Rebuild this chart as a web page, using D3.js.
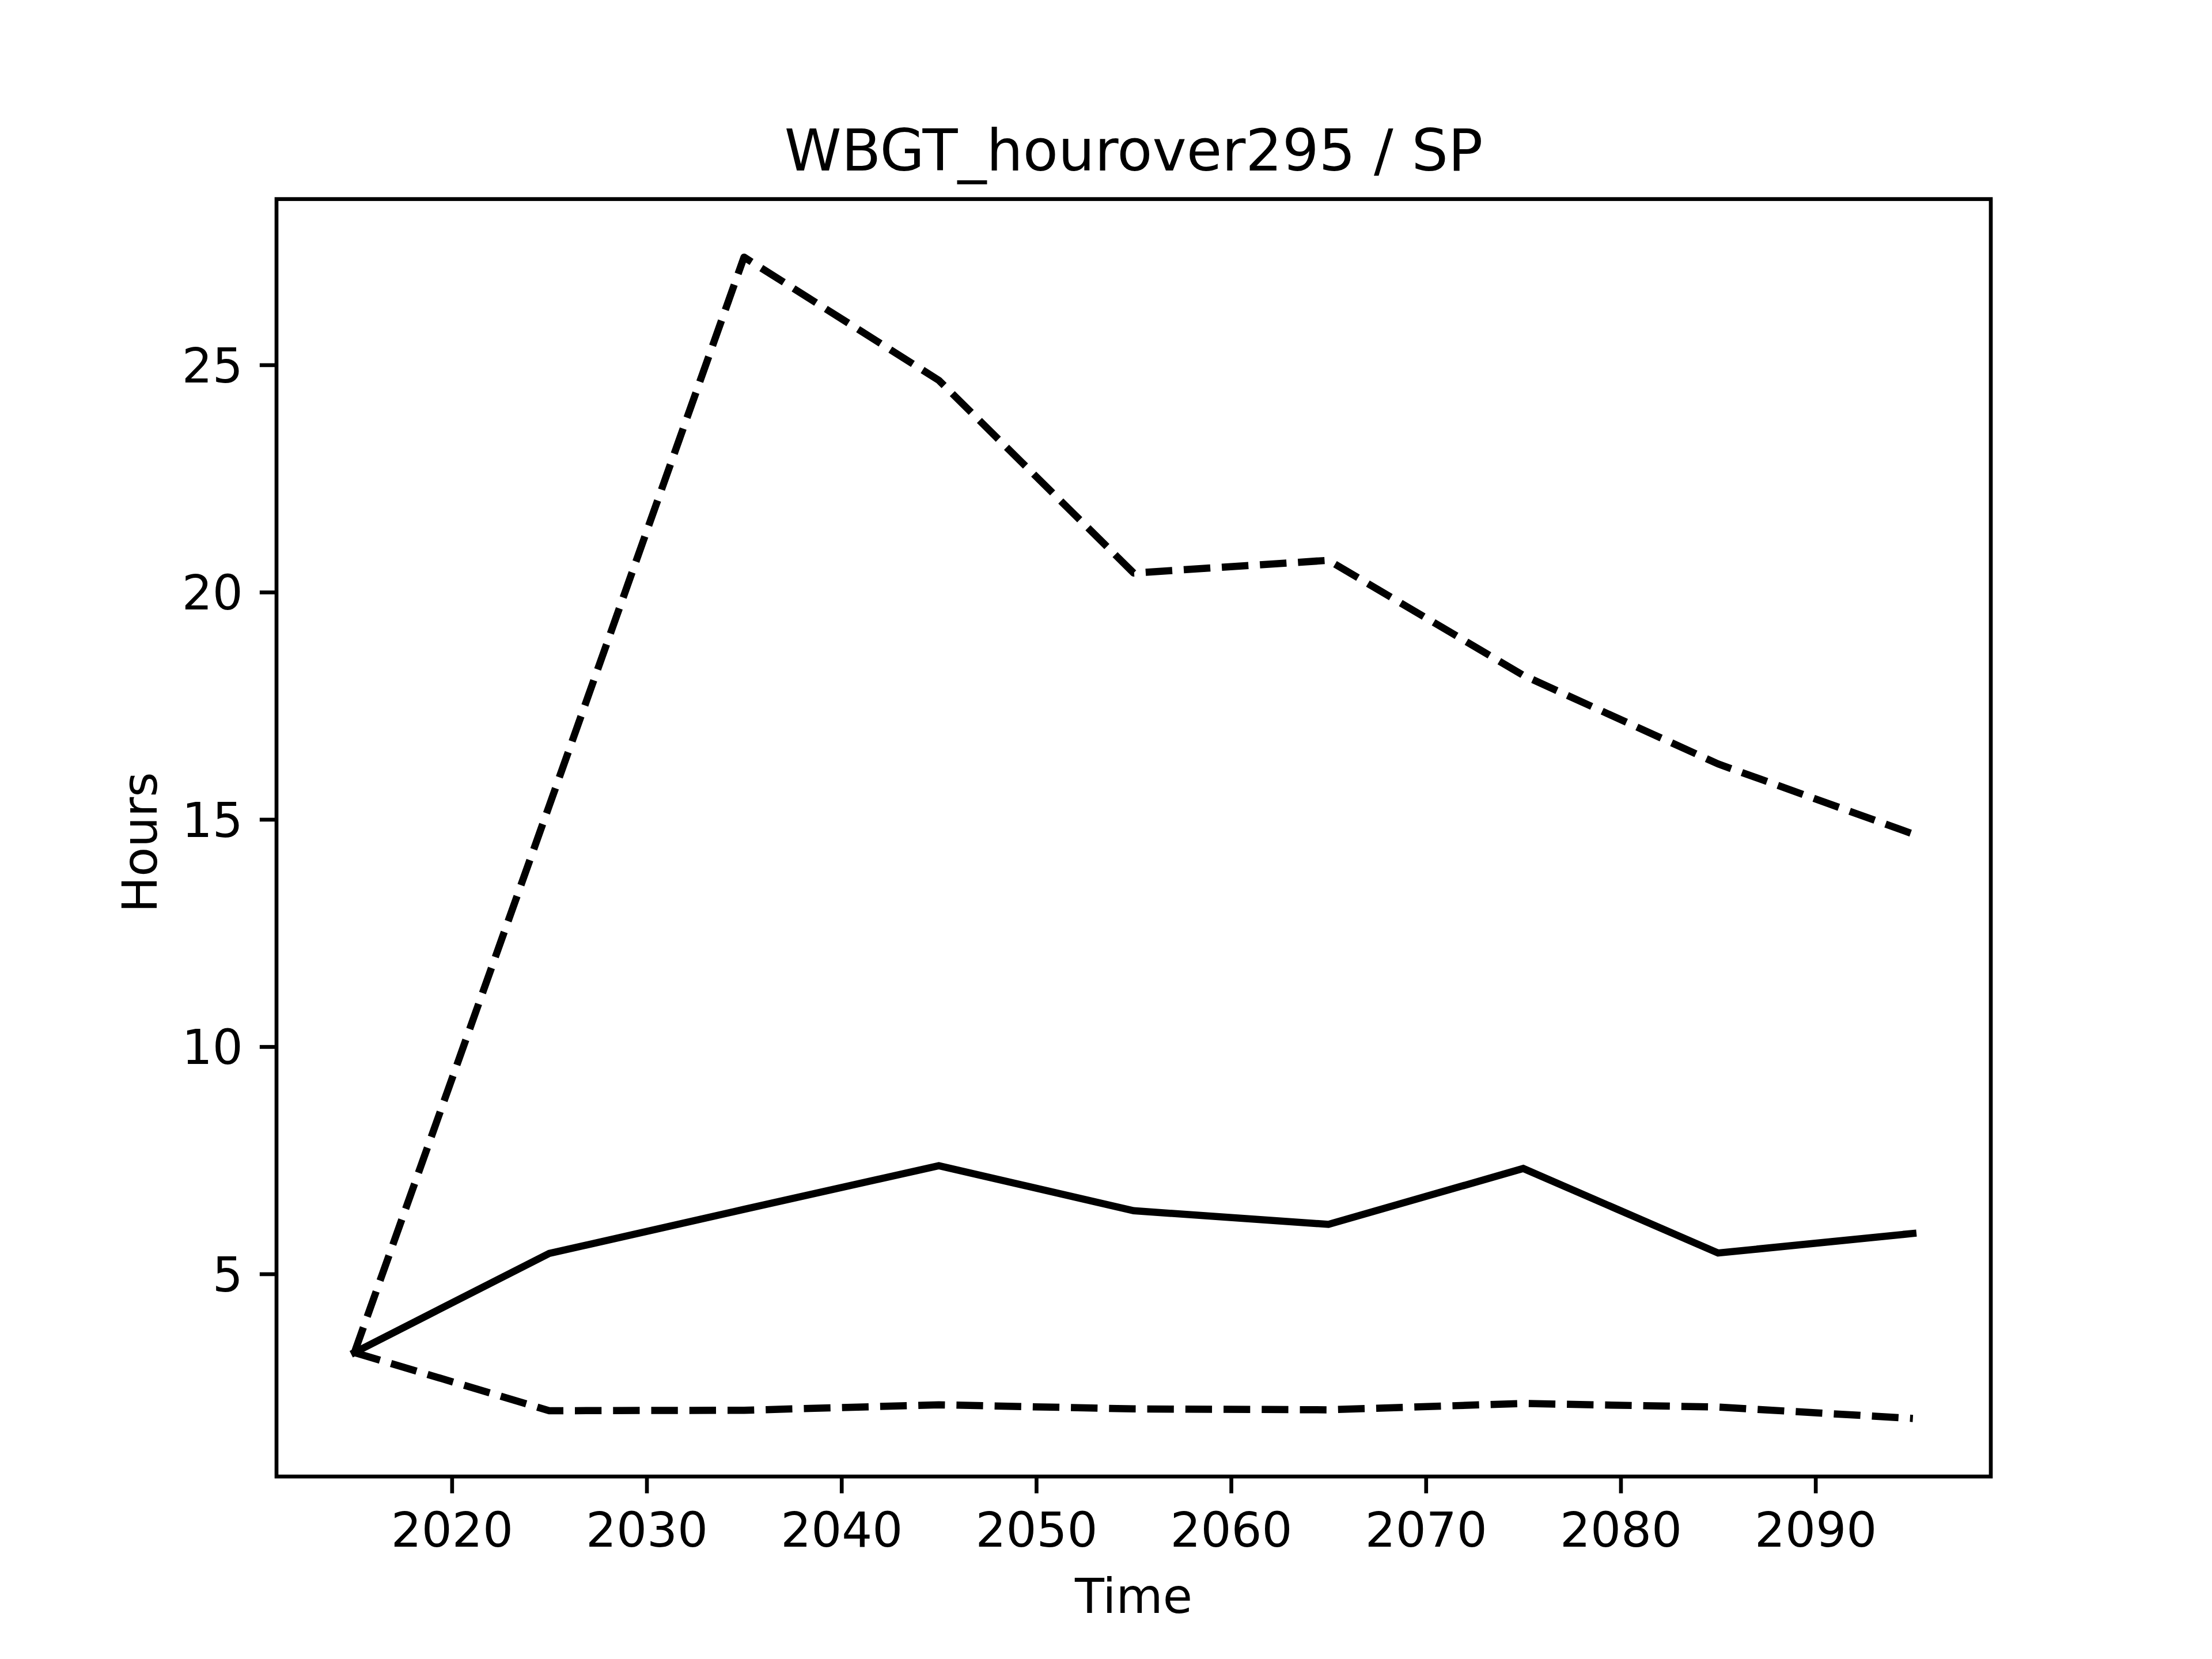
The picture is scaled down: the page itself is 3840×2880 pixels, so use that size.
<!DOCTYPE html>
<html>
<head>
<meta charset="utf-8">
<script src="https://cdn.jsdelivr.net/npm/d3@7"></script>
<style>
  html, body { margin: 0; padding: 0; background: #fff; }
  svg { display: block; font-family: "DejaVu Sans", sans-serif; }
</style>
</head>
<body>
<script>
// ---- Data ----
const years = [2015, 2025, 2035, 2045, 2055, 2065, 2075, 2085, 2095];
const medianHours = [3.27, 5.45, 6.42, 7.38, 6.39, 6.09, 7.32, 5.46, 5.89];
const upperHours  = [3.27, 15.3, 27.37, 24.66, 20.42, 20.70, 18.17, 16.22, 14.68];
const lowerHours  = [3.27, 1.99, 2.00, 2.12, 2.03, 2.01, 2.15, 2.07, 1.82];
const xTicks = [2020, 2030, 2040, 2050, 2060, 2070, 2080, 2090];
const yTicks = [5, 10, 15, 20, 25];
const titleText = "WBGT_hourover295 / SP";
const xLabelText = "Time";
const yLabelText = "Hours";

(function () {
// ---- Layout (matplotlib default figure geometry at 600 dpi) ----
const W = 3840, H = 2880;
const axLeft = 480, axRight = 3456, axTop = 345.6, axBottom = 2563.2;
const pt = 600 / 72;
const lw = 1.5 * pt;
const spineW = 0.8 * pt;
const tickLen = 3.5 * pt;
const tickPad = 3.5 * pt;
const fontSize = 10 * pt;
const titleSize = 12 * pt;

const svg = d3.select("body").append("svg")
  .attr("width", W).attr("height", H)
  .attr("viewBox", `0 0 ${W} ${H}`);
svg.append("rect").attr("width", W).attr("height", H).attr("fill", "#fff");

// scales with matplotlib-style 5% margins
const xExt = d3.extent(years);
const xPad = (xExt[1] - xExt[0]) * 0.05;
const x = d3.scaleLinear().domain([xExt[0] - xPad, xExt[1] + xPad]).range([axLeft, axRight]);
const allY = medianHours.concat(upperHours, lowerHours);
const yExt = d3.extent(allY);
const yPad = (yExt[1] - yExt[0]) * 0.05;
const y = d3.scaleLinear().domain([yExt[0] - yPad, yExt[1] + yPad]).range([axBottom, axTop]);

const plot = svg.append("g");
const line = d3.line().x((d, i) => x(years[i])).y(d => y(d));

const dash = `${3.7 * lw},${1.6 * lw}`;
plot.append("path").datum(upperHours)
  .attr("d", line).attr("fill", "none").attr("stroke", "#000")
  .attr("stroke-width", lw).attr("stroke-dasharray", dash)
  .attr("stroke-linejoin", "round").attr("stroke-linecap", "butt");
plot.append("path").datum(lowerHours)
  .attr("d", line).attr("fill", "none").attr("stroke", "#000")
  .attr("stroke-width", lw).attr("stroke-dasharray", dash)
  .attr("stroke-linejoin", "round").attr("stroke-linecap", "butt");
plot.append("path").datum(medianHours)
  .attr("d", line).attr("fill", "none").attr("stroke", "#000")
  .attr("stroke-width", lw)
  .attr("stroke-linejoin", "miter").attr("stroke-linecap", "square");

// axes
const xAxis = d3.axisBottom(x).tickValues(xTicks).tickFormat(d3.format("d"))
  .tickSize(tickLen).tickPadding(tickPad);
const gx = svg.append("g").attr("transform", `translate(0,${axBottom})`).call(xAxis);
gx.select(".domain").remove();
gx.selectAll(".tick line").attr("stroke", "#000").attr("stroke-width", spineW);
gx.selectAll(".tick text").attr("font-size", fontSize).attr("fill", "#000")
  .attr("font-family", "DejaVu Sans").attr("dy", null)
  .attr("y", tickLen + tickPad + 0.76 * fontSize);

const yAxis = d3.axisLeft(y).tickValues(yTicks).tickFormat(d3.format("d"))
  .tickSize(tickLen).tickPadding(tickPad);
const gy = svg.append("g").attr("transform", `translate(${axLeft},0)`).call(yAxis);
gy.select(".domain").remove();
gy.selectAll(".tick line").attr("stroke", "#000").attr("stroke-width", spineW);
gy.selectAll(".tick text").attr("font-size", fontSize).attr("fill", "#000")
  .attr("font-family", "DejaVu Sans").attr("dy", "0.36em");

// frame (spines)
svg.append("rect")
  .attr("x", axLeft).attr("y", axTop)
  .attr("width", axRight - axLeft).attr("height", axBottom - axTop)
  .attr("fill", "none").attr("stroke", "#000").attr("stroke-width", spineW);

// title and labels
svg.append("text").attr("x", (axLeft + axRight) / 2).attr("y", axTop - 6 * pt)
  .attr("text-anchor", "middle").attr("font-size", titleSize).attr("fill", "#000")
  .text(titleText);
svg.append("text").attr("x", (axLeft + axRight) / 2).attr("y", 2800)
  .attr("text-anchor", "middle").attr("font-size", fontSize).attr("fill", "#000")
  .text(xLabelText);
svg.append("text")
  .attr("transform", `translate(272,${(axTop + axBottom) / 2 + 8}) rotate(-90)`)
  .attr("text-anchor", "middle").attr("font-size", fontSize).attr("fill", "#000")
  .text(yLabelText);
})();
</script>
</body>
</html>
